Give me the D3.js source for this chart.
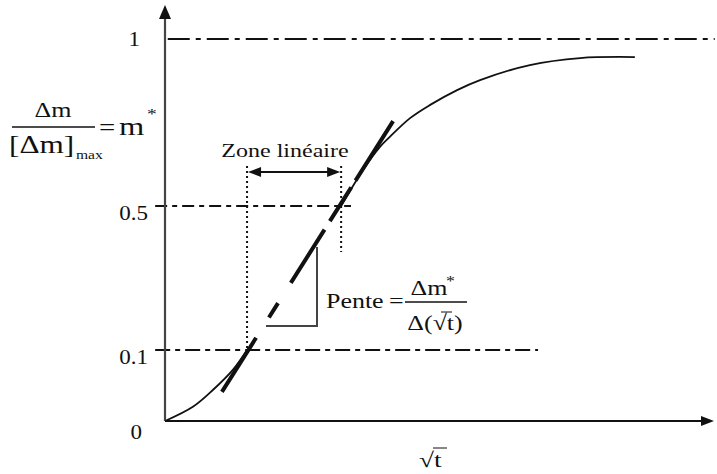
<!DOCTYPE html>
<html>
<head>
<meta charset="utf-8">
<script src="https://cdn.jsdelivr.net/npm/d3@7"></script>
<style>
  body { margin: 0; background: #fff; }
  text { font-family: "Liberation Serif", "Times New Roman", serif; fill: #111; }
</style>
</head>
<body>
<div id="wrapper"></div>
<script>
// data
const yTicks = [0, 0.1, 0.5, 1]
const yTickLabels = ["0", "0.1", "0.5", "1"]
const sqrtT = [0, 5.1, 8.8, 12.4, 15.0, 19.0, 23.0, 27.6, 32.2, 36.2, 39.3, 41.1, 44.8, 48.4, 53.4, 57.6, 66.7, 75.9, 85.9]
const mStar = [0, 0.020, 0.044, 0.072, 0.1, 0.194, 0.286, 0.394, 0.5, 0.608, 0.677, 0.707, 0.763, 0.802, 0.847, 0.877, 0.922, 0.943, 0.946]
const tangentX = [10.4, 41.7]
const tangentY = [0.041, 0.754]
const zoneX = [15.0, 32.2]
const levels = [1, 0.5, 0.1]
const levelStart = [0.5, -1.8, -1.8]
const levelEnd = [100.5, 34.0, 68.2]

function draw() {
  const dimensions = { width: 717, height: 474 }

  const svg = d3.select("#wrapper")
    .append("svg")
    .attr("width", dimensions.width)
    .attr("height", dimensions.height)

  // scales (schematic: y is piecewise)
  const xScale = d3.scaleLinear().domain([0, 100]).range([165, 712])
  const yScale = d3.scaleLinear().domain([0, 0.1, 0.5, 1]).range([421, 350, 206, 39])

  const sText = (x, y, str, size, anchor, stretch = 1.3) => svg.append("text")
    .attr("transform", `translate(${x},${y}) scale(${stretch},1)`)
    .attr("text-anchor", anchor || "start")
    .style("font-size", `${size}px`)
    .text(str)

  // reference levels
  const dashes = ["22,6,5,6", "12,5,5,5", "15,5,5,5"]
  levels.forEach((lv, i) => {
    svg.append("line")
      .attr("x1", xScale(levelStart[i])).attr("x2", xScale(levelEnd[i]))
      .attr("y1", yScale(lv)).attr("y2", yScale(lv))
      .attr("stroke", "#111").attr("stroke-width", 2)
      .attr("stroke-dasharray", dashes[i])
  })

  // dotted verticals
  svg.append("line")
    .attr("x1", xScale(zoneX[0])).attr("x2", xScale(zoneX[0]))
    .attr("y1", 166).attr("y2", yScale(0.1))
    .attr("stroke", "#111").attr("stroke-width", 2).attr("stroke-dasharray", "2,3")
  svg.append("line")
    .attr("x1", xScale(zoneX[1])).attr("x2", xScale(zoneX[1]))
    .attr("y1", 166).attr("y2", 252)
    .attr("stroke", "#111").attr("stroke-width", 2).attr("stroke-dasharray", "2,3")

  // double arrow
  const ay = 172
  const x0 = xScale(zoneX[0]), x1 = xScale(zoneX[1])
  svg.append("line").attr("x1", x0 + 8).attr("x2", x1 - 8).attr("y1", ay).attr("y2", ay)
    .attr("stroke", "#111").attr("stroke-width", 2)
  svg.append("path").attr("d", `M${x0 + 1},${ay} L${x0 + 14},${ay - 5} L${x0 + 14},${ay + 5} Z`).attr("fill", "#111")
  svg.append("path").attr("d", `M${x1 - 1},${ay} L${x1 - 14},${ay - 5} L${x1 - 14},${ay + 5} Z`).attr("fill", "#111")

  sText(285, 157, "Zone linéaire", 18.5, "middle")

  // curve (hidden under the tangent in the linear zone)
  const line = d3.line()
    .defined(d => d[0] <= zoneX[0] || d[0] >= zoneX[1])
    .x(d => xScale(d[0]))
    .y(d => yScale(d[1]))
    .curve(d3.curveCatmullRom.alpha(0.5))
  svg.append("path")
    .datum(sqrtT.map((v, i) => [v, mStar[i]]))
    .attr("d", line)
    .attr("fill", "none")
    .attr("stroke", "#111")
    .attr("stroke-width", 1.8)

  // tangent
  svg.append("line")
    .attr("x1", xScale(tangentX[0])).attr("y1", yScale(tangentY[0]))
    .attr("x2", xScale(tangentX[1])).attr("y2", yScale(tangentY[1]))
    .attr("stroke", "#111").attr("stroke-width", 4)
    .attr("stroke-dasharray", "64,24,17,24,63,10,40,8,200")

  // slope triangle
  svg.append("path")
    .attr("d", "M317,247 L317,326 L266,326")
    .attr("fill", "none").attr("stroke", "#444").attr("stroke-width", 2)

  // Pente label
  const ps = 1.18
  sText(326, 308, "Pente", 22, "start", ps)
  sText(389, 308, "=", 22, "start", ps)
  sText(429, 295, "Δm", 22, "middle", ps)
  sText(446, 286, "*", 15, "start", ps)
  svg.append("line").attr("x1", 405).attr("x2", 467).attr("y1", 302).attr("y2", 302)
    .attr("stroke", "#111").attr("stroke-width", 1.3)
  sText(435, 330, "Δ(√t)", 22, "middle", ps)
  svg.append("line").attr("x1", 441).attr("x2", 452).attr("y1", 312).attr("y2", 312)
    .attr("stroke", "#111").attr("stroke-width", 1)

  // axes
  svg.append("line").attr("x1", 165).attr("x2", 165).attr("y1", 421).attr("y2", 16)
    .attr("stroke", "#444").attr("stroke-width", 2.2)
  svg.append("path").attr("d", "M165,5 L159,19 L171,19 Z").attr("fill", "#111")
  svg.append("line").attr("x1", 165).attr("x2", 703).attr("y1", 421).attr("y2", 421)
    .attr("stroke", "#111").attr("stroke-width", 2.2)
  svg.append("path").attr("d", "M714,421 L701,416 L701,426 Z").attr("fill", "#111")

  const tickStretch = 1.15
  const yAxis = svg.append("g")
    .attr("transform", "translate(165,0)")
    .call(d3.axisLeft(yScale).tickValues(yTicks).tickSize(0).tickPadding(17)
      .tickFormat((d, i) => yTickLabels[i]))
  yAxis.select(".domain").remove()
  const labelShift = { 0: 11, 0.1: 7, 0.5: 7, 1: 0 }
  const labelX = { 0: -23, 0.1: -17, 0.5: -17, 1: -25 }
  yAxis.selectAll(".tick text")
    .attr("x", d => labelX[d] / tickStretch)
    .attr("transform", d => `translate(0,${labelShift[d]}) scale(${tickStretch},1)`)
    .attr("dy", "0.32em")
    .style("font-family", "Liberation Serif")
    .style("font-size", "20px")
    .attr("fill", "#111")

  // y label
  sText(53, 117, "Δm", 20, "middle")
  svg.append("line").attr("x1", 12).attr("x2", 95).attr("y1", 127).attr("y2", 127)
    .attr("stroke", "#111").attr("stroke-width", 1.3)
  sText(9, 153, "[Δm]", 25, "start", 1.25)
  sText(76, 159, "max", 12)
  sText(99, 135, "=", 24, "start", 1.2)
  sText(119, 135, "m", 26, "start", 1.25)
  sText(147, 119, "*", 15)

  // x label
  sText(419, 467, "√t", 21)
  svg.append("line").attr("x1", 433).attr("x2", 447).attr("y1", 448).attr("y2", 448)
    .attr("stroke", "#111").attr("stroke-width", 1)
}

draw()
</script>
</body>
</html>
